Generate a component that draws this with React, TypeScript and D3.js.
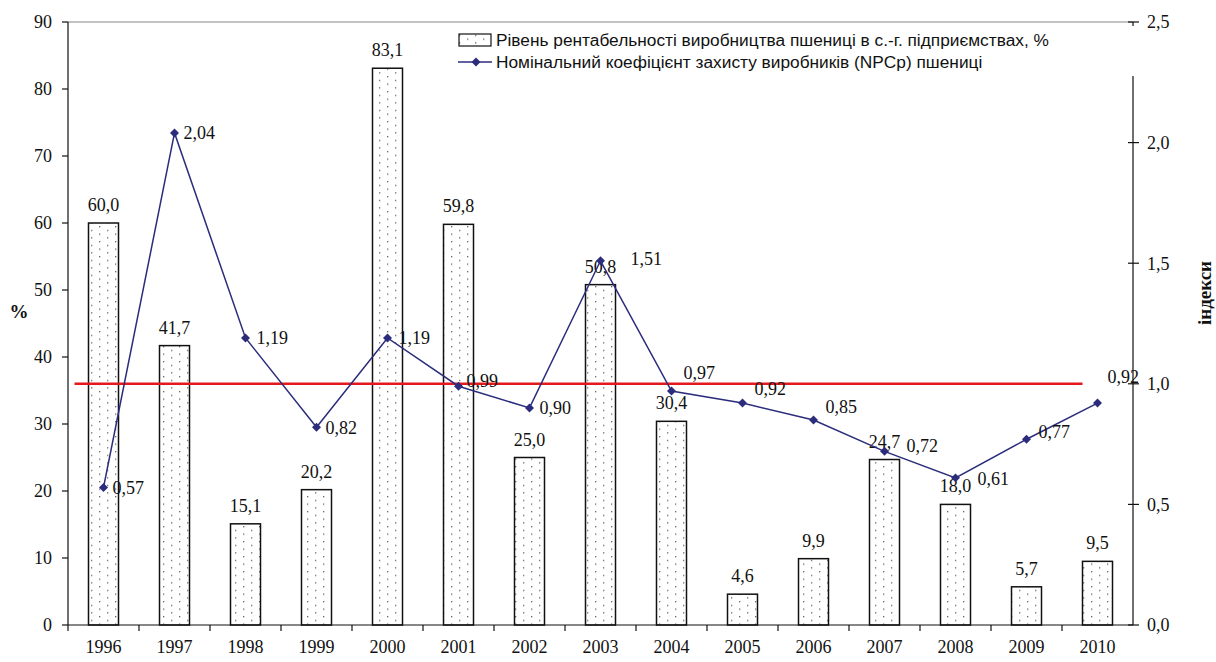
import React from 'react';
import * as d3 from 'd3';

const years = ['1996','1997','1998','1999','2000','2001','2002','2003','2004','2005','2006','2007','2008','2009','2010'];
const profitability = [60.0, 41.7, 15.1, 20.2, 83.1, 59.8, 25.0, 50.8, 30.4, 4.6, 9.9, 24.7, 18.0, 5.7, 9.5];
const npc = [0.57, 2.04, 1.19, 0.82, 1.19, 0.99, 0.90, 1.51, 0.97, 0.92, 0.85, 0.72, 0.61, 0.77, 0.92];
const leftTicks = [0, 10, 20, 30, 40, 50, 60, 70, 80, 90];
const rightTicks = [0, 0.5, 1.0, 1.5, 2.0, 2.5];
const barLabel = 'Рівень рентабельності виробництва пшениці в с.-г. підприємствах, %';
const lineLabel = 'Номінальний коефіцієнт захисту виробників (NPCp) пшениці';

// label placement next to the NPC points (dx, dy)
const npcLabelOffset: [number, number][] = [
  [9, 0], [9, 0], [11, 0], [9, 0], [11, 0], [8, -6], [10, 0], [30, -2],
  [12, -18], [12, -14], [12, -13], [22, -6], [22, 1], [12, -8], [10, -26],
];

const fmt = (v: number, d: number) => v.toFixed(d).replace('.', ',');

const W = 1216, H = 662;
const m = { left: 68, right: 1133, top: 22, bottom: 625 };
const serif = '"Liberation Serif", "Times New Roman", serif';
const narrow = '"Liberation Sans Narrow", "Arial Narrow", "Liberation Sans", sans-serif';
const navy = '#2b2d7c';
const fs = 18;

export default function App() {
  const x = d3.scaleBand<string>().domain(years).range([m.left, m.right]);
  const yL = d3.scaleLinear().domain([0, 90]).range([m.bottom, m.top]);
  const yR = d3.scaleLinear().domain([0, 2.5]).range([m.bottom, m.top]);
  const cx = (yr: string) => (x(yr) ?? 0) + x.bandwidth() / 2;
  const barW = 30;

  const line = d3.line<number>()
    .x((_, i) => cx(years[i]))
    .y(d => yR(d));

  const diamond = d3.symbol().type(d3.symbolSquare).size(40)();

  return (
    <svg width={W} height={H} style={{ position: 'absolute', left: 0, top: 0, background: '#fff' }}>
      <defs>
        <pattern id="dots" width="16" height="7.5" patternUnits="userSpaceOnUse" x="3" y="1">
          <rect x="0" y="0" width="1.3" height="1.3" fill="#666" />
          <rect x="8" y="3.75" width="1.3" height="1.3" fill="#666" />
        </pattern>
      </defs>

      {/* top frame line */}
      <line x1={m.left} x2={m.right} y1={m.top} y2={m.top} stroke="#888" strokeWidth={1.2} />

      {/* bars */}
      {years.map((yr, i) => (
        <g key={yr}>
          <rect x={cx(yr) - barW / 2} y={yL(profitability[i])} width={barW}
            height={yL(0) - yL(profitability[i])} fill="#fff" />
          <rect x={cx(yr) - barW / 2} y={yL(profitability[i])} width={barW}
            height={yL(0) - yL(profitability[i])} fill="url(#dots)" stroke="#111" strokeWidth={1.5} />
          <text x={cx(yr)} y={yL(profitability[i]) - 12} textAnchor="middle"
            fontFamily={serif} fontSize={fs} fill="#111">{fmt(profitability[i], 1)}</text>
        </g>
      ))}

      {/* reference line at 1.0 */}
      <line x1={cx(years[0]) - 29} x2={cx(years[years.length - 1]) - 15} y1={yR(1)} y2={yR(1)}
        stroke="#e3191f" strokeWidth={2.5} />

      {/* NPC line */}
      <path d={line(npc) ?? ''} fill="none" stroke={navy} strokeWidth={1.5} />
      {npc.map((v, i) => (
        <g key={i}>
          <path d={diamond ?? ''} transform={`translate(${cx(years[i])},${yR(v)}) rotate(45)`} fill={navy} />
          <text x={cx(years[i]) + npcLabelOffset[i][0]} y={yR(v) + npcLabelOffset[i][1]} dy="0.35em"
            fontFamily={serif} fontSize={fs} fill="#111">{fmt(v, 2)}</text>
        </g>
      ))}

      {/* left axis */}
      <line x1={m.left} x2={m.left} y1={m.top} y2={m.bottom} stroke="#111" strokeWidth={1.2} />
      {leftTicks.map(t => (
        <g key={t}>
          <line x1={m.left - 6} x2={m.left} y1={yL(t)} y2={yL(t)} stroke="#111" strokeWidth={1.2} />
          <text x={m.left - 16} y={yL(t)} dy="0.35em" textAnchor="end"
            fontFamily={serif} fontSize={fs} fill="#111">{t}</text>
        </g>
      ))}
      <text x={19} y={318} textAnchor="middle" fontFamily={serif} fontSize={19} fontWeight="bold" fill="#111">%</text>

      {/* bottom axis */}
      <line x1={m.left} x2={m.right} y1={m.bottom} y2={m.bottom} stroke="#111" strokeWidth={1.2} />
      {years.map(yr => (
        <g key={yr}>
          <line x1={x(yr)} x2={x(yr)} y1={m.bottom} y2={m.bottom + 6} stroke="#111" strokeWidth={1.2} />
          <text x={cx(yr)} y={m.bottom + 22} dy="0.35em" textAnchor="middle"
            fontFamily={serif} fontSize={fs} fill="#111">{yr}</text>
        </g>
      ))}

      {/* right axis */}
      <line x1={m.right} x2={m.right} y1={m.top} y2={m.bottom} stroke="#111" strokeWidth={1.2} />
      {rightTicks.map(t => (
        <g key={t}>
          <line x1={m.right - 5} x2={m.right + 6} y1={yR(t)} y2={yR(t)} stroke="#111" strokeWidth={1.2} />
          <text x={m.right + 14} y={yR(t)} dy="0.35em"
            fontFamily={serif} fontSize={fs} fill="#111">{fmt(t, 1)}</text>
        </g>
      ))}
      <text transform={`translate(1211,293) rotate(-90)`} textAnchor="middle"
        fontFamily={serif} fontSize={19} fontWeight="bold" fill="#111">індекси</text>

      {/* legend */}
      <rect x={455} y={26} width={m.right - 454} height={50} fill="#fff" />
      <rect x={459} y={34} width={32} height={12} fill="#fff" />
      <rect x={459} y={34} width={32} height={12} fill="url(#dots)" stroke="#111" strokeWidth={1.2} />
      <text x={496} y={40} dy="0.35em" fontFamily={narrow} fontSize={17.3} fill="#111">{barLabel}</text>
      <line x1={458} x2={492} y1={62} y2={62} stroke={navy} strokeWidth={1.5} />
      <path d={diamond ?? ''} transform="translate(476,62) rotate(45)" fill={navy} />
      <text x={496} y={62} dy="0.35em" fontFamily={narrow} fontSize={17.3} fill="#111">{lineLabel}</text>
    </svg>
  );
}
